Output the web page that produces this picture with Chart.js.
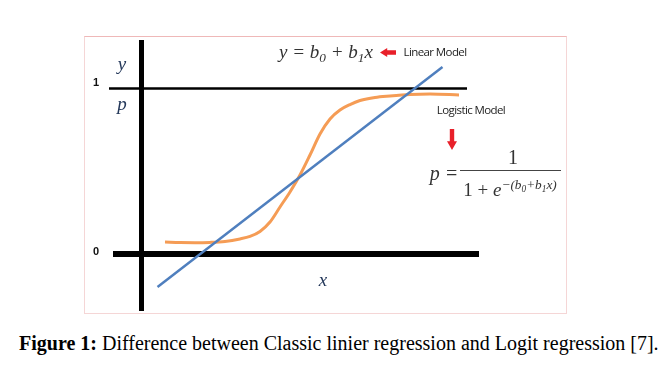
<!DOCTYPE html>
<html lang="en">
<head>
    <meta charset="UTF-8">
    <title>Linear vs Logistic Model</title>
    <script src="https://cdn.jsdelivr.net/npm/chart.js"></script>
    <style>
        body { margin: 0; background: #fff; }
        #page { position: relative; width: 668px; height: 389px; overflow: hidden; }
        #frame {
            position: absolute; left: 84px; top: 36px; width: 481px; height: 276px;
            border: 1px solid #f5d6d6; border-top-color: #efb8b8;
        }
        #chart { position: absolute; left: 0; top: 0; }
        .lbl { position: absolute; transform: translate(-50%, -50%); white-space: nowrap; line-height: 1; }
        .math { font-family: "Liberation Serif", serif; font-style: italic; color: #333; }
        .axisvar { font-family: "Liberation Serif", serif; font-style: italic; color: #24385a; font-size: 19px; }
        .tick { font-family: "Liberation Sans", Arial, sans-serif; font-weight: bold; font-size: 11px; color: #111; }
        .note { font-family: "Open Sans", "Liberation Sans", sans-serif; font-size: 11.5px; color: #222; letter-spacing: -0.6px; }
        .up { font-style: normal; }
        sub, sup { font-size: 70%; line-height: 0; }
        #caption {
            position: absolute; left: 19px; top: 332px; white-space: nowrap;
            font-family: "Liberation Serif", "Times New Roman", serif; font-size: 20px; color: #000;
        }
    </style>
</head>
<body>
<div id="page">
    <div id="frame">
        <canvas id="chart" width="481" height="276"></canvas>
    </div>

    <div class="lbl axisvar" style="left:122px; top:63px;">y</div>
    <div class="lbl axisvar" style="left:122px; top:103px;">p</div>
    <div class="lbl tick" id="tick1" style="left:96px; top:82px;"></div>
    <div class="lbl tick" id="tick0" style="left:96px; top:251px;"></div>
    <div class="lbl axisvar" style="left:323px; top:279px;">x</div>

    <div class="lbl math" style="left:326px; top:51px; font-size:19px;">y = b<sub>0</sub> + b<sub>1</sub>x</div>
    <div style="position:absolute; left:380px; top:48px; width:16px; height:9px; background:#e8202a;
                clip-path: polygon(0 50%, 45% 0, 45% 25%, 100% 25%, 100% 75%, 45% 75%, 45% 100%);"></div>
    <div class="lbl note" style="left:435px; top:52px;">Linear Model</div>

    <div class="lbl note" style="left:471px; top:110px;">Logistic Model</div>
    <div style="position:absolute; left:447px; top:129px; width:10px; height:21px; background:#e8202a;
                clip-path: polygon(28% 0, 72% 0, 72% 58%, 100% 58%, 50% 100%, 0 58%, 28% 58%);"></div>

    <div class="lbl math" style="left:444px; top:173px; font-size:20px;">p =</div>
    <div class="lbl math up" style="left:513px; top:157px; font-size:20px;">1</div>
    <div style="position:absolute; left:460px; top:170px; width:101px; height:1px; background:#444;"></div>
    <div class="lbl math" style="left:510px; top:189px; font-size:19px;"><span class="up">1 +</span> e<sup>−(b<sub>0</sub>+b<sub>1</sub>x)</sup></div>

    <div id="caption"><b>Figure 1:</b> Difference between Classic linier regression and Logit regression [7].</div>
</div>
<script>
    // values in plot units: x = 0 at the vertical axis, y = 0 / y = 1 at the two horizontal lines
    const tickLabels = ['0', '1'];

    const linearX = [0.32, 6.02];
    const linearY = [-0.20, 1.13];

    const logisticX = [0.47, 0.77, 1.07, 1.37, 1.67, 1.97, 2.17, 2.37, 2.57, 2.77, 2.97, 3.17,
                       3.37, 3.57, 3.77, 3.97, 4.17, 4.37, 4.67, 4.97, 5.37, 5.77, 6.35];
    const logisticY = [0.073, 0.069, 0.068, 0.070, 0.076, 0.091, 0.106, 0.136, 0.193, 0.284, 0.375, 0.477,
                       0.598, 0.725, 0.816, 0.870, 0.903, 0.927, 0.946, 0.955, 0.964, 0.967, 0.961];

    const yAxisX = [0, 0];
    const yAxisY = [1.293, -0.344];
    const oneLineX = [-0.65, 6.51];
    const oneLineY = [1, 1];
    const zeroLineX = [-0.57, 6.75];
    const zeroLineY = [0, 0];

    document.getElementById('tick0').textContent = tickLabels[0];
    document.getElementById('tick1').textContent = tickLabels[1];

    function pts(xs, ys) {
        return xs.map((x, i) => ({ x: x, y: ys[i] }));
    }

    const ctx = document.getElementById('chart').getContext('2d');
    const chart = new Chart(ctx, {
        type: 'line',
        data: {
            datasets: [
                { data: pts(linearX, linearY), borderColor: '#4f7fbe', borderWidth: 2.5, order: 1 },
                { data: pts(logisticX, logisticY), borderColor: '#f59c55', borderWidth: 3,
                  cubicInterpolationMode: 'monotone', order: 2 },
                { data: pts(yAxisX, yAxisY), borderColor: '#000', borderWidth: 5, order: 3 },
                { data: pts(oneLineX, oneLineY), borderColor: '#000', borderWidth: 2.5, order: 4 },
                { data: pts(zeroLineX, zeroLineY), borderColor: '#000', borderWidth: 6, order: 5 }
            ]
        },
        options: {
            responsive: false,
            animation: false,
            devicePixelRatio: 1,
            layout: { padding: 0 },
            elements: { point: { radius: 0 }, line: { borderCapStyle: 'butt', fill: false } },
            plugins: { legend: { display: false }, tooltip: { enabled: false } },
            scales: {
                x: { type: 'linear', min: -1.13, max: 8.49, display: false },
                y: { type: 'linear', min: -0.3565, max: 1.311, display: false }
            }
        }
    });
</script>
</body>
</html>
